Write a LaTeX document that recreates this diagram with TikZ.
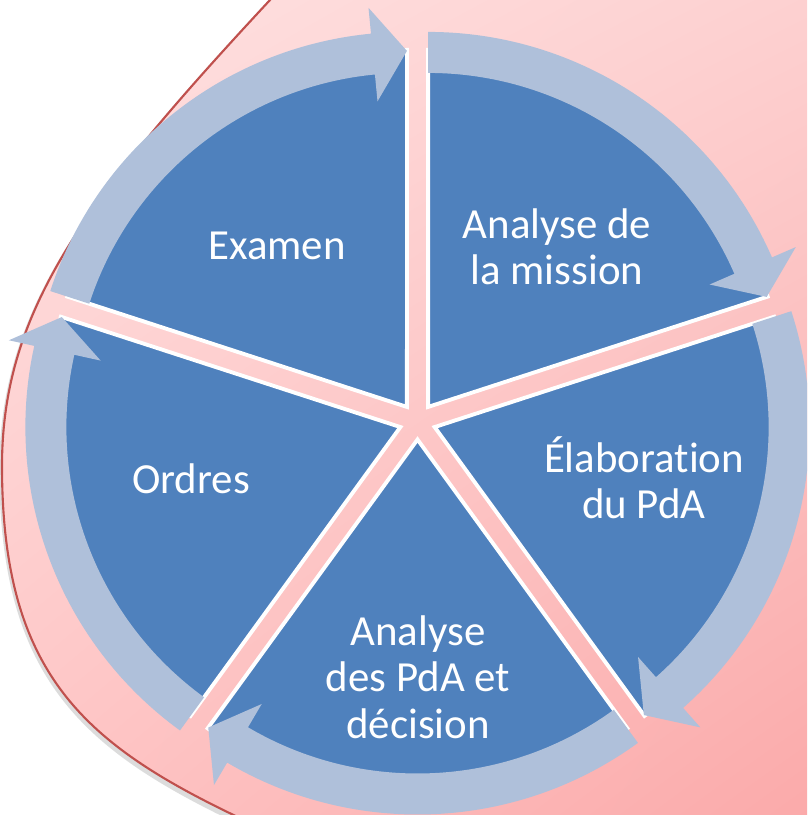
\documentclass[tikz,border=0pt]{standalone}
\usepackage{fontspec}
\setmainfont{Carlito}[Ligatures=NoCommon]
\usetikzlibrary{calc,shadings}
\definecolor{cblue}{HTML}{4F81BD}
\definecolor{cring}{HTML}{AFC0DA}
\definecolor{crim}{HTML}{C0504D}
\definecolor{cpinkA}{HTML}{FFE6E6}
\definecolor{cpinkB}{HTML}{FDD3D3}
\definecolor{cpinkC}{HTML}{FEC2C2}
\definecolor{cpinkD}{HTML}{FAA3A3}
\tikzset{
  wedge/.style={fill=cblue,draw=white,line width=1.1pt},
  ring/.style={fill=cring},
  lbl/.style={text=white,align=center,font=\fontsize{12.2}{13.2}\selectfont,inner sep=0pt},
  bg/.style={upper left=cpinkA,upper right=cpinkB,lower left=cpinkC,lower right=cpinkD,draw=crim,line width=0.6pt,
    preaction={draw=black!30,opacity=0.45,line width=2.2pt,transform canvas={shift={(0.012,-0.03)}}}},
}
\begin{document}
\begin{tikzpicture}
  \useasboundingbox (0,0) rectangle (8.07,-8.15);
  \clip (0,0) rectangle (8.07,-8.15);
  % --- fond
  \shadedraw[bg] (2.98,0.3) -- (2.70,0) .. controls (0.84,-2.0) and (0.02,-3.11) .. (0.02,-4.66)
    .. controls (0.02,-6.86) and (0.94,-7.52) .. (2.70,-8.32) -- (3.2,-8.55) -- (9,-9) -- (9,1) -- cycle;
  \coordinate (C) at (4.175,-4.215);
  % --- secteurs
  \foreach \a in {90,18,-54,-126,-198} {
    \begin{scope}[shift={($(C)+(\a-36:0.18)$)}]
      \path[wedge] (0,0) -- (\a:3.57) arc[start angle=\a, end angle=\a-72, radius=3.57] -- cycle;
    \end{scope}
  }
  % --- fleches
  \foreach \a in {90,18,-54,-126,-198} {
    \begin{scope}[shift={($(C)+(\a-36:0.18)$)}]
      \fill[ring] (\a:3.34) -- (\a:3.75) arc[start angle=\a, end angle=\a-66.5, radius=3.75]
        -- (\a-66.5:4.01) -- (\a-72:3.56) -- (\a-66.5:3.07) -- (\a-66.5:3.34)
        arc[start angle=\a-66.5, end angle=\a, radius=3.34] -- cycle;
    \end{scope}
  }
  % --- textes
  \foreach \nm/\x/\y/\txt in {examen/2.77/-2.46/Examen, mission/5.57/-2.47/{Analyse de\\la mission}, elab/6.44/-4.78/{Élaboration\\du PdA}, decision/4.18/-6.77/{Analyse\\des PdA et\\décision}, ordres/1.91/-4.79/Ordres} {
    \node[lbl] (\nm) at (\x,\y) {\txt};
  }
\end{tikzpicture}
\end{document}
